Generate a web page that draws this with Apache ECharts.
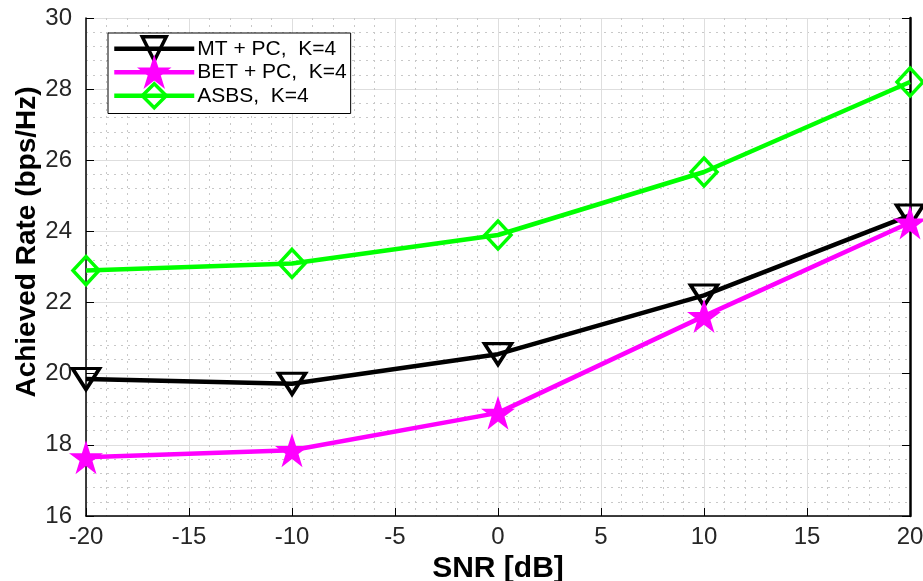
<!DOCTYPE html>
<html>
<head>
<meta charset="utf-8">
<script src="https://cdn.jsdelivr.net/npm/echarts@6/dist/echarts.min.js"></script>
<style>
html,body{margin:0;padding:0;background:#fff;}
#chart{width:923px;height:581px;}
</style>
</head>
<body>
<div id="chart"></div>
<script>
var snr = [-20, -10, 0, 10, 20];
var mtpc = [19.85, 19.72, 20.55, 22.2, 24.45];
var betpc = [17.65, 17.85, 18.9, 21.62, 24.25];
var asbs = [22.9, 23.1, 23.9, 25.67, 28.2];
var seriesNames = ['MT + PC,  K=4', 'BET + PC,  K=4', 'ASBS,  K=4'];

function pairs(xs, ys) { return xs.map(function (x, i) { return [x, ys[i]]; }); }

var starPath = 'path://M50,0 L62,36 L100,36 L69,58 L81,95 L50,72 L19,95 L31,58 L0,36 L38,36 Z';
var font = '"Liberation Sans", Arial, Helvetica, sans-serif';

var chart = echarts.init(document.getElementById('chart'), null, {renderer: 'canvas'});
var option = {
  animation: false,
  backgroundColor: '#fff',
  grid: {left: 86, right: 13, top: 18, bottom: 65, show: false, containLabel: false, outerBoundsMode: 'none'},
  legend: {
    left: 108, top: 33,
    orient: 'vertical',
    backgroundColor: '#fff',
    borderColor: '#000',
    borderWidth: 1,
    borderRadius: 0,
    padding: [2, 4, 4, 4],
    itemWidth: 80,
    itemHeight: 30,
    itemGap: -4,
    lineStyle: {width: 4.5},
    itemStyle: {borderWidth: 3.5},
    textStyle: {fontFamily: font, fontSize: 21, color: '#000', padding: [0, 0, 0, -2]},
    data: seriesNames
  },
  xAxis: [{
    type: 'value', min: -20, max: 20, interval: 5,
    name: 'SNR [dB]', nameLocation: 'middle', nameGap: 38, nameMoveOverlap: false,
    nameTextStyle: {fontFamily: font, fontSize: 30, fontWeight: 'bold', color: '#000'},
    axisLine: {show: true, onZero: false, lineStyle: {color: '#000', width: 1.5}},
    axisTick: {show: true, inside: true, length: 8, lineStyle: {color: '#000'}},
    axisLabel: {fontFamily: font, fontSize: 24, color: '#262626', margin: 9},
    splitLine: {show: true, lineStyle: {color: '#dedede', width: 1}},
    minorTick: {show: false, splitNumber: 5},
    minorSplitLine: {show: true, lineStyle: {color: '#c8c8c8', width: 1, type: [2, 5]}}
  }],
  yAxis: [{
    type: 'value', min: 16, max: 30, interval: 2,
    name: 'Achieved Rate (bps/Hz)', nameLocation: 'middle', nameGap: 45, nameMoveOverlap: false,
    nameTextStyle: {fontFamily: font, fontSize: 28, fontWeight: 'bold', color: '#000', padding: [0, 0, 0, 50]},
    axisLine: {show: true, onZero: false, lineStyle: {color: '#000', width: 1.5}},
    axisTick: {show: true, inside: true, length: 8, lineStyle: {color: '#000'}},
    axisLabel: {fontFamily: font, fontSize: 24, color: '#262626', margin: 14},
    splitLine: {show: true, lineStyle: {color: '#dedede', width: 1}},
    minorTick: {show: false, splitNumber: 5},
    minorSplitLine: {show: true, lineStyle: {color: '#c8c8c8', width: 1, type: [2, 5]}}
  }, {
    type: 'value', min: 16, max: 30, interval: 2, position: 'right',
    axisLine: {show: true, onZero: false, lineStyle: {color: '#000', width: 2.5}},
    axisTick: {show: true, inside: true, length: 8, lineStyle: {color: '#000'}},
    axisLabel: {show: false}, splitLine: {show: false}
  }],
  series: [{
    name: seriesNames[0], type: 'line', data: pairs(snr, mtpc),
    symbol: 'triangle', symbolRotate: 180, symbolSize: [27, 21], showAllSymbol: true,
    lineStyle: {color: '#000', width: 4.5},
    itemStyle: {color: 'rgba(0,0,0,0)', borderColor: '#000', borderWidth: 3.5},
    z: 3
  }, {
    name: seriesNames[1], type: 'line', data: pairs(snr, betpc),
    symbol: starPath, symbolSize: 34, showAllSymbol: true,
    lineStyle: {color: '#ff00ff', width: 4.5},
    itemStyle: {color: '#ff00ff', borderColor: '#ff00ff', borderWidth: 0},
    z: 4
  }, {
    name: seriesNames[2], type: 'line', data: pairs(snr, asbs),
    symbol: 'diamond', symbolSize: [26, 28], showAllSymbol: true,
    lineStyle: {color: '#00ff00', width: 4.5},
    itemStyle: {color: 'rgba(0,0,0,0)', borderColor: '#00ff00', borderWidth: 3.5},
    z: 5
  }]
};
chart.setOption(option);
</script>
</body>
</html>
